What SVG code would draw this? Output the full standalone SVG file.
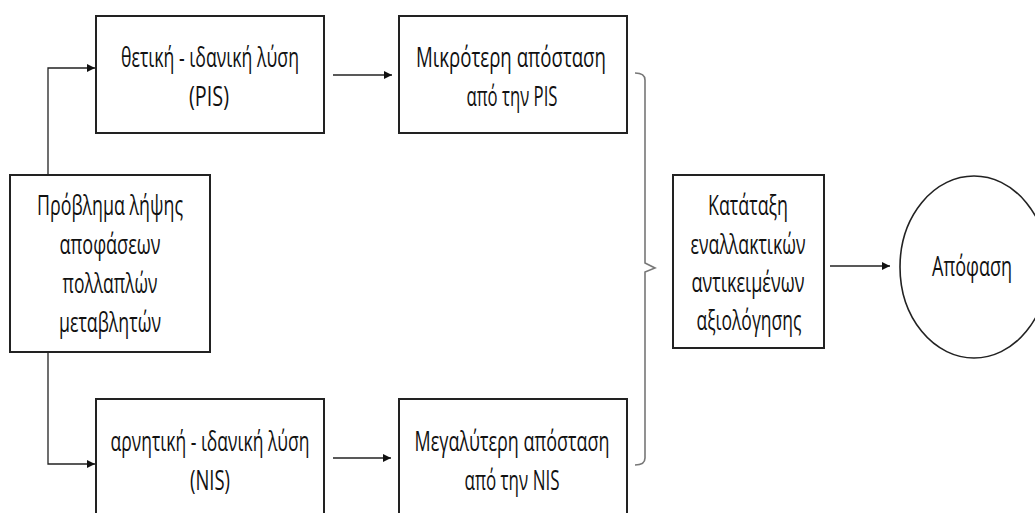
<svg xmlns="http://www.w3.org/2000/svg" width="1035" height="513" viewBox="0 0 1035 513">
  <defs>
    <marker id="arrow" viewBox="0 0 10 10" refX="10" refY="5" markerWidth="8" markerHeight="8" markerUnits="userSpaceOnUse" orient="auto">
      <path d="M0,0 L10,5 L0,10 Z" fill="#111"/>
    </marker>
    <style>
      .box { fill: #fff; stroke: #222; stroke-width: 2; }
      .lbl { font-family: "Open Sans", "Noto Sans", sans-serif; font-size: 27px; fill: #111; text-anchor: middle; }
      .conn { fill: none; stroke: #222; stroke-width: 1.3; }
      .brace { fill: none; stroke: #777; stroke-width: 1.6; }
    </style>
  </defs>
  <rect width="1035" height="513" fill="#fff"/>

  <!-- connectors -->
  <g id="connectors">
    <path class="conn" d="M48,175 V68 H95" marker-end="url(#arrow)"/>
    <path class="conn" d="M48,352 V464 H95" marker-end="url(#arrow)"/>
    <path class="conn" d="M333,75 H392" marker-end="url(#arrow)"/>
    <path class="conn" d="M333,458 H391" marker-end="url(#arrow)"/>
    <path class="conn" d="M830,266 H890" marker-end="url(#arrow)"/>
    <!-- brace joining the two distance boxes -->
    <path class="brace" d="M635,73 Q645,73 645,80 V263 L655,268 L645,272 V458 Q645,465 635,465"/>
  </g>

  <g id="node-problem">
    <rect class="box" x="10" y="175" width="200" height="177"/>
    <text class="lbl" x="110" y="215" textLength="146" lengthAdjust="spacingAndGlyphs">Πρόβλημα λήψης</text>
    <text class="lbl" x="110" y="254" textLength="101" lengthAdjust="spacingAndGlyphs">αποφάσεων</text>
    <text class="lbl" x="110" y="293" textLength="95" lengthAdjust="spacingAndGlyphs">πολλαπλών</text>
    <text class="lbl" x="110" y="332" textLength="102" lengthAdjust="spacingAndGlyphs">μεταβλητών</text>
  </g>

  <g id="node-pis">
    <rect class="box" x="96" y="16" width="228" height="117"/>
    <text class="lbl" x="210" y="67" textLength="178" lengthAdjust="spacingAndGlyphs">θετική - ιδανική λύση</text>
    <text class="lbl" x="209" y="106" textLength="40" lengthAdjust="spacingAndGlyphs">(PIS)</text>
  </g>

  <g id="node-nis">
    <rect class="box" x="96" y="399" width="228" height="117"/>
    <text class="lbl" x="210" y="451" textLength="199" lengthAdjust="spacingAndGlyphs">αρνητική - ιδανική λύση</text>
    <text class="lbl" x="210" y="490" textLength="40" lengthAdjust="spacingAndGlyphs">(NIS)</text>
  </g>

  <g id="node-min-dist">
    <rect class="box" x="399" y="16" width="228" height="117"/>
    <text class="lbl" x="511" y="67" textLength="190" lengthAdjust="spacingAndGlyphs">Μικρότερη απόσταση</text>
    <text class="lbl" x="512" y="106" textLength="91" lengthAdjust="spacingAndGlyphs">από την PIS</text>
  </g>

  <g id="node-max-dist">
    <rect class="box" x="399" y="399" width="228" height="117"/>
    <text class="lbl" x="512" y="451" textLength="195" lengthAdjust="spacingAndGlyphs">Μεγαλύτερη απόσταση</text>
    <text class="lbl" x="512" y="490" textLength="95" lengthAdjust="spacingAndGlyphs">από την NIS</text>
  </g>

  <g id="node-ranking">
    <rect class="box" x="673" y="175" width="151" height="173"/>
    <text class="lbl" x="748" y="215" textLength="80" lengthAdjust="spacingAndGlyphs">Κατάταξη</text>
    <text class="lbl" x="748" y="254" textLength="115" lengthAdjust="spacingAndGlyphs">εναλλακτικών</text>
    <text class="lbl" x="748" y="292" textLength="113" lengthAdjust="spacingAndGlyphs">αντικειμένων</text>
    <text class="lbl" x="749" y="330" textLength="105" lengthAdjust="spacingAndGlyphs">αξιολόγησης</text>
  </g>

  <g id="node-decision">
    <ellipse cx="974" cy="267" rx="74" ry="91" fill="#fff" stroke="#222" stroke-width="1.6"/>
    <text class="lbl" x="972" y="276" textLength="80" lengthAdjust="spacingAndGlyphs">Απόφαση</text>
  </g>
</svg>
